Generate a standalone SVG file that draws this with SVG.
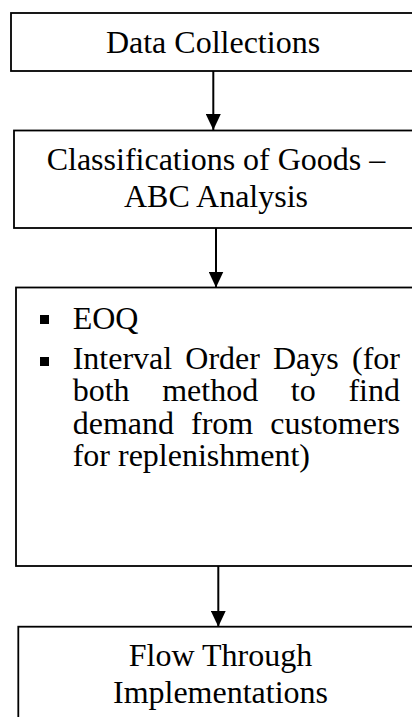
<svg xmlns="http://www.w3.org/2000/svg" width="412" height="717" viewBox="0 0 412 717">
<style>
.box{fill:#fff;stroke:#000;stroke-width:1.8}
.t{font-family:"Liberation Serif","Times New Roman",serif;font-size:32px;fill:#000}
.c{text-anchor:middle}
.e{text-anchor:end}
.ln{stroke:#000;stroke-width:2;fill:none}
</style>
<defs>
<marker id="ah" markerWidth="16" markerHeight="15" refX="16" refY="7.5" orient="auto" markerUnits="userSpaceOnUse" viewBox="0 0 16 15">
<path d="M0,0 L16,7.5 L0,15 Z" fill="#000"/>
</marker>
</defs>
<rect width="412" height="717" fill="#fff"/>
<g id="n1">
<rect class="box" x="11" y="13" width="420" height="58"/>
<text class="t c" x="213" y="53">Data Collections</text>
</g>
<g id="n2">
<rect class="box" x="14" y="130.5" width="420" height="97.5"/>
<text class="t c" x="216" y="170">Classifications of Goods –</text>
<text class="t c" x="216" y="207">ABC Analysis</text>
</g>
<g id="n3">
<rect class="box" x="16" y="287.5" width="420" height="278.5"/>
<rect x="40" y="315" width="9" height="9" fill="#000"/>
<text class="t" x="72.7" y="329">EOQ</text>
<rect x="40" y="357" width="9" height="9" fill="#000"/>
<text class="t" x="72.7" y="369">Interval</text>
<text class="t" x="185.3" y="369">Order</text>
<text class="t" x="273" y="369">Days</text>
<text class="t e" x="400" y="369">(for</text>
<text class="t" x="72.7" y="401">both</text>
<text class="t" x="162.2" y="401">method</text>
<text class="t" x="290.8" y="401">to</text>
<text class="t e" x="400" y="401">find</text>
<text class="t" x="72.7" y="434">demand</text>
<text class="t" x="191" y="434">from</text>
<text class="t e" x="400" y="434">customers</text>
<text class="t" x="72.7" y="466">for replenishment)</text>
</g>
<g id="n4">
<rect class="box" x="18.3" y="626.7" width="420" height="120"/>
<text class="t c" x="220.5" y="666">Flow Through</text>
<text class="t c" x="220.5" y="703">Implementations</text>
</g>
<g id="connectors">
<line class="ln" x1="213.3" y1="71" x2="213.3" y2="130" marker-end="url(#ah)"/>
<line class="ln" x1="216" y1="228" x2="216" y2="287.5" marker-end="url(#ah)"/>
<line class="ln" x1="218.3" y1="566" x2="218.3" y2="626.7" marker-end="url(#ah)"/>
</g>
</svg>
